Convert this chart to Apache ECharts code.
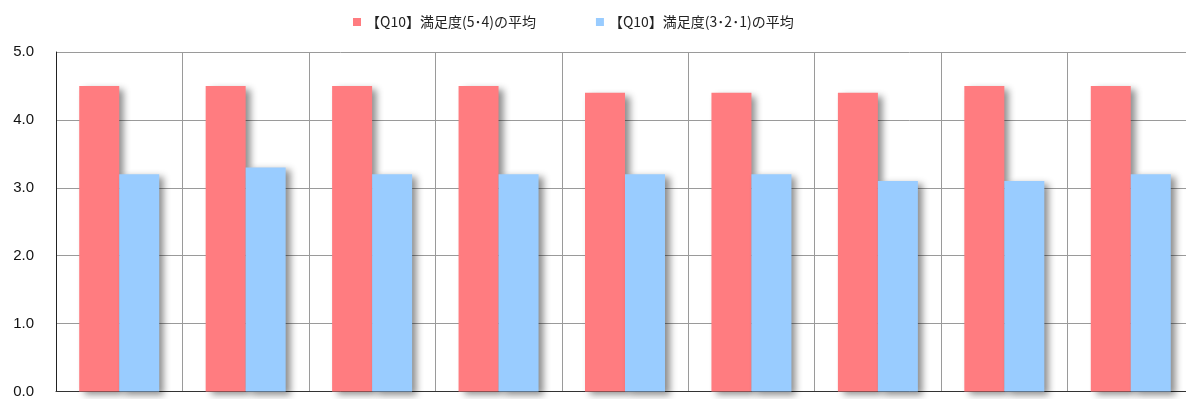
<!DOCTYPE html>
<html>
<head>
<meta charset="utf-8">
<script src="https://cdn.jsdelivr.net/npm/echarts@6/dist/echarts.min.js"></script>
<style>
  html, body { margin: 0; padding: 0; background: #fff; overflow: hidden; }
  /* the plot runs a little past the right edge of the picture */
  #chart { width: 1194px; height: 399px; }
</style>
</head>
<body>
<div id="chart"></div>
<script>
    // 9 categories, no labels shown on the x axis
    const categories = ['1', '2', '3', '4', '5', '6', '7', '8', '9'];
    const seriesNames = ['【Q10】満足度(5･4)の平均', '【Q10】満足度(3･2･1)の平均'];
    const highValues = [4.5, 4.5, 4.5, 4.5, 4.4, 4.4, 4.4, 4.5, 4.5];
    const lowValues = [3.2, 3.3, 3.2, 3.2, 3.2, 3.2, 3.1, 3.1, 3.2];
    const yTicks = [0, 1, 2, 3, 4, 5];

    const colorList = ['#ff7c80', '#99ccff'];

    const barShadow = {
        shadowColor: 'rgba(0, 0, 0, 0.45)',
        shadowBlur: 7,
        shadowOffsetX: 5,
        shadowOffsetY: 3
    };

    let option = {
        animation: false,
        color: colorList,
        textStyle: {
            fontFamily: '"Noto Sans CJK JP", "Liberation Sans", sans-serif'
        },
        legend: {
            top: 10,
            left: 348,
            itemGap: 60,
            itemWidth: 8,
            itemHeight: 8,
            icon: 'rect',
            textStyle: {
                fontSize: 14,
                color: '#222'
            },
            data: seriesNames
        },
        grid: {
            left: 56,
            right: 0,
            top: 52,
            bottom: 7,
            containLabel: false
        },
        xAxis: {
            type: 'category',
            data: categories,
            axisLine: { show: true, lineStyle: { color: '#333' } },
            axisTick: { show: false },
            axisLabel: { show: false },
            splitLine: { show: true, lineStyle: { color: '#9a9a9a', width: 1 } }
        },
        yAxis: {
            type: 'value',
            min: yTicks[0],
            max: yTicks[yTicks.length - 1],
            interval: 1,
            axisLine: { show: true, lineStyle: { color: '#222' } },
            axisTick: { show: false },
            axisLabel: {
                margin: 22,
                fontSize: 15,
                color: '#111',
                fontFamily: '"Liberation Sans", Arial, sans-serif',
                formatter: value => value.toFixed(1)
            },
            splitLine: { show: true, lineStyle: { color: '#9a9a9a', width: 1 } }
        },
        series: [
            {
                name: seriesNames[0],
                type: 'bar',
                barWidth: 40,
                barGap: '0%',
                data: highValues,
                itemStyle: Object.assign({ color: colorList[0] }, barShadow)
            },
            {
                name: seriesNames[1],
                type: 'bar',
                barWidth: 40,
                barGap: '0%',
                data: lowValues,
                itemStyle: Object.assign({ color: colorList[1] }, barShadow)
            }
        ]
    };

    const chart = echarts.init(document.getElementById('chart'));
    chart.setOption(option);
</script>
</body>
</html>
